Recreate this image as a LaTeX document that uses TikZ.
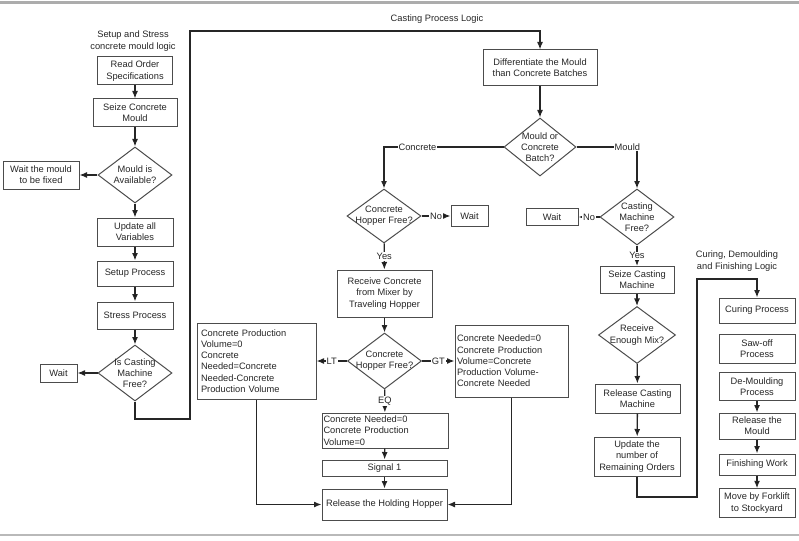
\documentclass[tikz,border=0pt]{standalone}
\usepackage{fontspec}
\setmainfont{Liberation Sans}
\usetikzlibrary{arrows.meta,positioning,shapes.geometric}
\tikzset{
 >={Latex[length=7.5pt,width=6pt]},
 wh/.style 2 args={minimum width=#1pt, minimum height=#2pt},
 box/.style={draw=black!70, line width=1pt, rectangle, align=center, inner sep=1pt},
 decision/.style={draw=black!70, line width=1pt, diamond, inner sep=0pt},
 lab/.style={fill=white, inner sep=1pt},
 flow/.style={->, line width=1.3pt, draw=black!85},
 note/.style={align=center}
}

\begin{document}
\begin{tikzpicture}[x=1pt,y=-1pt,font=\fontsize{9.3}{11.3}\selectfont,text=black!85]
\useasboundingbox (0,0) rectangle (799,540);
\draw[gray!65, line width=2.5pt] (0,2.5) -- (799,2.5);
\draw[gray!55, line width=1.2pt] (0,535) -- (799,535);

% setup and stress logic
\path (133,41) node[name=setuptitle, note] {Setup and Stress\\concrete mould logic};
\path (135,71) node[name=rd, box, wh={75}{28}] {Read Order\\Specifications};
\path (135,113) node[name=sm, box, wh={84}{28}] {Seize Concrete\\Mould};
\path (135,175) node[name=avail, decision, wh={74}{56}, label={[align=center]center:Mould is\\Available?}] {};
\path (41,175) node[name=wm, box, wh={76}{28}] {Wait the mould\\to be fixed};
\path (135,232) node[name=uv, box, wh={76}{28}] {Update all\\Variables};
\path (135,273.5) node[name=sp, box, wh={76}{25}] {Setup Process};
\path (135,315.5) node[name=sts, box, wh={76}{27}] {Stress Process};
\path (135,373) node[name=icm, decision, wh={74}{56}, label={[align=center]center:Is Casting\\Machine\\Free?}] {};
\path (58.5,373) node[name=w1, box, wh={37}{18}] {Wait};

\path[flow] (rd) edge (sm);
\path[flow] (sm) edge (avail);
\path[flow] (avail) edge (wm);
\path[flow] (avail) edge (uv);
\path[flow] (uv) edge (sp);
\path[flow] (sp) edge (sts);
\path[flow] (sts) edge (icm);
\path[flow] (icm) edge (w1);

% casting process logic
\path (437,19) node[name=casttitle] {Casting Process Logic};
\path (540,68) node[name=df, box, wh={114}{36}] {Differentiate the Mould\\than Concrete Batches};
\path (540,147) node[name=mcb, decision, wh={72}{58}, label={[align=center]center:Mould or\\Concrete\\Batch?}] {};

\coordinate (lp1) at (190,419);
\coordinate (lp2) at (190,31);
\draw[flow] (icm.south) |- (lp1) -- (lp2) -| (df.north);

\path (384,216) node[name=hf1, decision, wh={74}{54}, label={[align=center]center:Concrete\\Hopper Free?}] {};
\path (469.5,216) node[name=wt2, box, wh={37}{21}] {Wait};
\path (384.5,293.5) node[name=rc, box, wh={95}{47}] {Receive Concrete\\from Mixer by\\Traveling Hopper};
\path (384.5,361) node[name=hf2, decision, wh={74}{56}, label={[align=center]center:Concrete\\Hopper Free?}] {};
\path (256.5,361) node[name=lb, box, align=left, inner sep=4pt, text width=111pt, wh={119}{76}] {Concrete Production\\Volume=0\\Concrete\\Needed=Concrete\\Needed-Concrete\\Production Volume};
\path (511.5,361) node[name=rb, box, align=left, inner sep=2pt, text width=109pt, wh={113}{72}] {Concrete Needed=0\\Concrete Production\\Volume=Concrete\\Production Volume-\\Concrete Needed};
\path (385,430.5) node[name=eqb, box, align=left, inner sep=1.5pt, text width=123pt, wh={126}{35}] {Concrete Needed=0\\Concrete Production\\Volume=0};
\path (384.5,468) node[name=sg, box, wh={125}{16}] {Signal 1};
\path (384.5,504.5) node[name=rh, box, wh={125}{31}] {Release the Holding Hopper};

\path (637,217) node[name=cmf, decision, wh={74}{56}, label={[align=center]center:Casting\\Machine\\Free?}] {};
\path (552,217) node[name=wt3, box, wh={52}{17}] {Wait};
\path (637,280) node[name=sc, box, wh={74}{27}] {Seize Casting\\Machine};
\path (637,335) node[name=em, decision, wh={77}{57}, label={[align=center]center:Receive\\Enough Mix?}] {};
\path (637.5,398.5) node[name=rm, box, wh={85}{29}] {Release Casting\\Machine};
\path (637,456.5) node[name=uo, box, wh={86}{39}] {Update the\\number of\\Remaining Orders};

\path[flow] (df) edge (mcb);
\draw[flow] (mcb.west) -| node[lab, pos=0.36] {Concrete} (hf1.north);
\path[flow] (hf1) edge node[lab] {No} (wt2);
\path[flow] (hf1) edge node[lab] {Yes} (rc);
\path[flow] (rc) edge (hf2);
\path[flow] (hf2) edge node[lab] {LT} (lb);
\path[flow] (hf2) edge node[lab] {GT} (rb);
\path[flow] (hf2) edge node[lab] {EQ} (eqb);
\path[flow] (eqb) edge (sg);
\path[flow] (sg) edge (rh);
\draw[flow] (lb.south) |- (rh.west);
\draw[flow] (rb.south) |- (rh.east);

\draw[flow] (mcb.east) -| node[lab, pos=0.42] {Mould} (cmf.north);
\path[flow] (cmf) edge node[lab] {No} (wt3);
\path[flow] (cmf) edge node[lab] {Yes} (sc);
\path[flow] (sc) edge (em);
\path[flow] (em) edge (rm);
\path[flow] (rm) edge (uo);

% curing, demoulding and finishing logic
\path (737,261) node[name=curetitle, note] {Curing, Demoulding\\and Finishing Logic};
\path (757,310.5) node[name=cp, box, wh={76}{25}] {Curing Process};
\path (757,348.5) node[name=so, box, wh={76}{29}] {Saw-off\\Process};
\path (757,386.5) node[name=dmb, box, wh={76}{28}] {De-Moulding\\Process};
\path (757,426) node[name=rl, box, wh={76}{26}] {Release the\\Mould};
\path (757,464.5) node[name=fw, box, wh={76}{21}] {Finishing Work};
\path (757,503) node[name=mf, box, wh={76}{28.5}] {Move by Forklift\\to Stockyard};

\coordinate (rp1) at (697,497);
\coordinate (rp2) at (697,279);
\draw[flow] (uo.south) |- (rp1) -- (rp2) -| (cp.north);
\path[flow] (dmb) edge (rl);
\path[flow] (rl) edge (fw);
\path[flow] (fw) edge (mf);

\end{tikzpicture}
\end{document}
